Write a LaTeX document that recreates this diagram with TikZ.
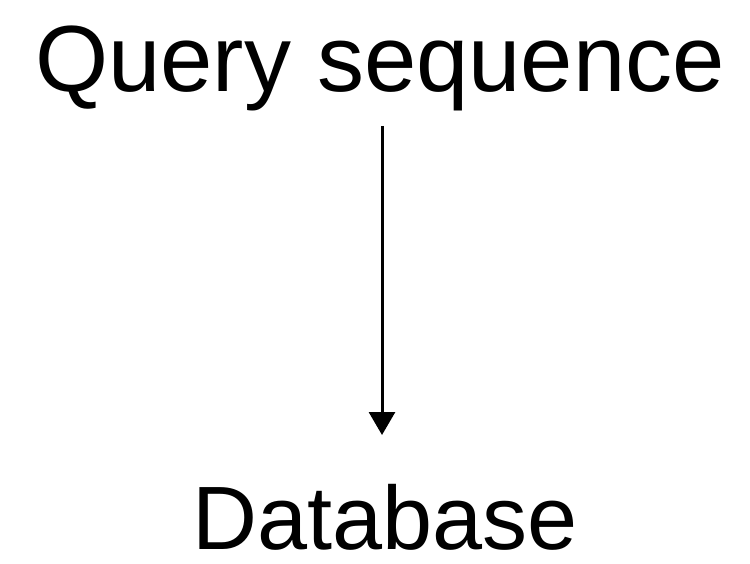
\documentclass[tikz,border=0pt]{standalone}
\usepackage{fontspec}
\setmainfont{Liberation Sans}
\usetikzlibrary{arrows.meta}
\begin{document}
\begin{tikzpicture}[x=1pt,y=1pt,
  lbl/.style={inner sep=0pt, anchor=base},
  conn/.style={line width=3pt, -{Triangle[length=23pt,width=26pt]}}]
\useasboundingbox (0,0) rectangle (750,563);
\node[lbl, font=\fontsize{94}{100}\selectfont] (q) at (380,471) {Query sequence};
\node[lbl, font=\fontsize{90}{100}\selectfont] (d) at (385,14) {Database};
\draw[conn] (382,437) -- (382,128);
\end{tikzpicture}
\end{document}
